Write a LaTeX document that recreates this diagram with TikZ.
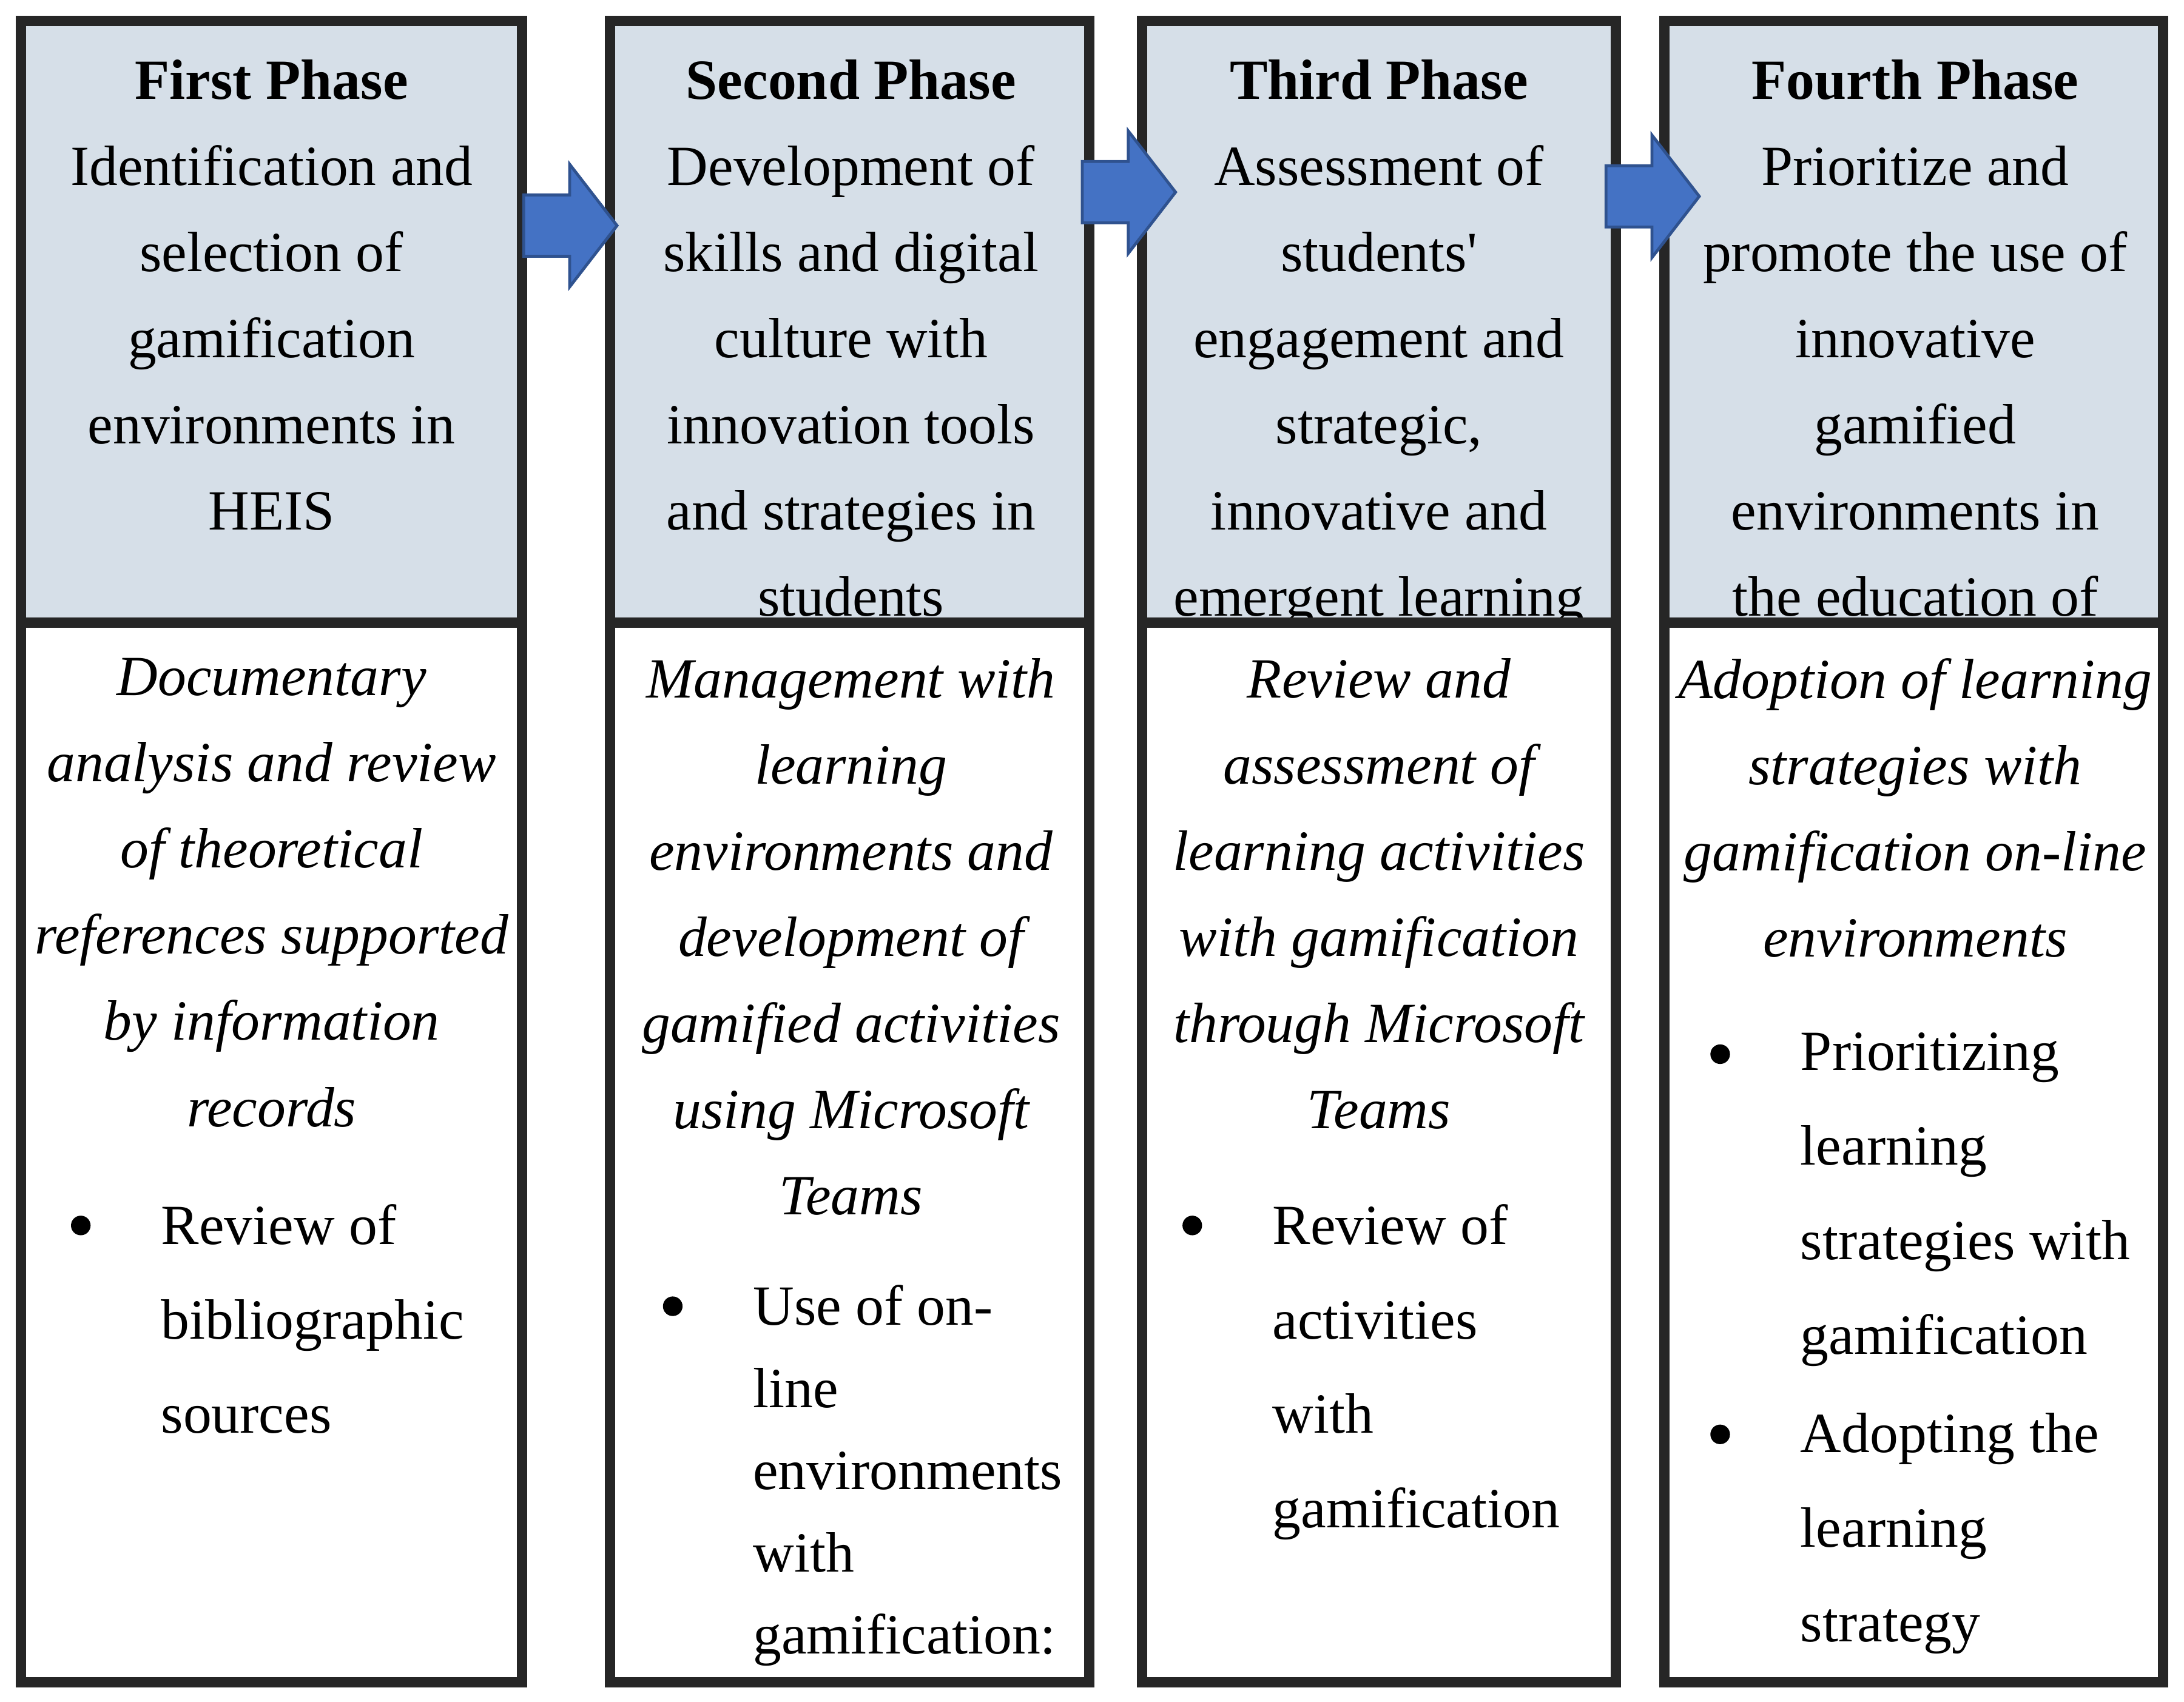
\documentclass[tikz,border=0pt]{standalone}
\usepackage{fontspec}
\setmainfont{Liberation Serif}
\definecolor{headfill}{HTML}{D6DFE8}
\definecolor{arrowblue}{HTML}{4472C4}
\definecolor{arrowedge}{HTML}{2F528F}
\tikzset{
  box/.style={draw=black!85, line width=2.1pt},
  headtext/.style={align=center, inner sep=0pt, anchor=north, font=\fontsize{11.6}{17.6}\selectfont},
  bodytext/.style={align=center, inner sep=0pt, anchor=north, font=\fontsize{11.6}{17.6}\selectfont\itshape},
  itemtext/.style={align=left, inner sep=0pt, anchor=north west, font=\fontsize{11.6}{19.3}\selectfont},
  dot/.style={circle, fill=black, inner sep=0pt, minimum size=4pt},
  phasearrow/.style={fill=arrowblue, draw=arrowedge, line width=0.6pt}
}
% block arrow centred at (#1,#2)
\newcommand{\blockarrow}[2]{%
  \draw[phasearrow] (#1-33,#2-22) -- (#1,#2-22) -- (#1,#2-44) -- (#1+34,#2)
    -- (#1,#2+44) -- (#1,#2+22) -- (#1-33,#2+22) -- cycle;}
\begin{document}
\begin{tikzpicture}[x=0.01cm,y=-0.01cm]
    \useasboundingbox (0,0) rectangle (1568,1222);
    % header fills
    \fill[headfill] (15,15) rectangle (375,447);
    \fill[headfill] (438,15) rectangle (782,447);
    \fill[headfill] (820,15) rectangle (1160,447);
    \fill[headfill] (1195,15) rectangle (1553,447);

    % header texts (cut at the header line)
    \begin{scope}
    \clip (15,15) rectangle (375,447);
    \node[headtext] (h1) at (195,42) {\textbf{First Phase}\\Identification and\\selection of\\gamification\\environments in\\HEIS};
    \end{scope}
    \begin{scope}
    \clip (438,15) rectangle (782,447);
    \node[headtext] (h2) at (611,42) {\textbf{Second Phase}\\Development of\\skills and digital\\culture with\\innovation tools\\and strategies in\\students};
    \end{scope}
    \begin{scope}
    \clip (820,15) rectangle (1160,447);
    \node[headtext] (h3) at (990,42) {\textbf{Third Phase}\\Assessment of\\students\textquotesingle\\engagement and\\strategic,\\innovative and\\emergent learning};
    \end{scope}
    \begin{scope}
    \clip (1195,15) rectangle (1553,447);
    \node[headtext] (h4) at (1375,42) {\textbf{Fourth Phase}\\Prioritize and\\promote the use of\\innovative\\gamified\\environments in\\the education of};
    \end{scope}

    % lower texts
    \node[bodytext] (b1) at (195,472) {Documentary\\analysis and review\\of theoretical\\references supported\\by information\\records};
    \node[bodytext] (b2) at (611,472) {Management with\\learning\\environments and\\development of\\gamified activities\\using Microsoft\\Teams};
    \node[bodytext] (b3) at (990,472) {Review and\\assessment of\\learning activities\\with gamification\\through Microsoft\\Teams};
    \node[bodytext] (b4) at (1375,472) {Adoption of learning\\strategies with\\gamification on-line\\environments};

    % bullet items
    \node[dot] (d1) at (58,880) {};
    \node[itemtext] (i1) at (115,864) {Review of\\bibliographic\\sources};
    \node[dot] (d2) at (483,938) {};
    \node[itemtext, font=\fontsize{11.6}{16.8}\selectfont] (i2) at (540,922) {Use of on-\\line\\environments\\with\\gamification:};
    \node[dot] (d3) at (856,880) {};
    \node[itemtext] (i3) at (913,864) {Review of\\activities\\with\\gamification};
    \node[dot] (d4) at (1235,757) {};
    \node[itemtext] (i4) at (1292,741) {Prioritizing\\learning\\strategies with\\gamification};
    \node[dot] (d5) at (1235,1030) {};
    \node[itemtext] (i5) at (1292,1014) {Adopting the\\learning\\strategy};

    % frames
    \draw[box] (15,15) rectangle (375,1208) (15,447) -- (375,447);
    \draw[box] (438,15) rectangle (782,1208) (438,447) -- (782,447);
    \draw[box] (820,15) rectangle (1160,1208) (820,447) -- (1160,447);
    \draw[box] (1195,15) rectangle (1553,1208) (1195,447) -- (1553,447);

    % arrows between phases
    \blockarrow{409}{162}
    \blockarrow{810}{138}
    \blockarrow{1186}{141}
\end{tikzpicture}
\end{document}
